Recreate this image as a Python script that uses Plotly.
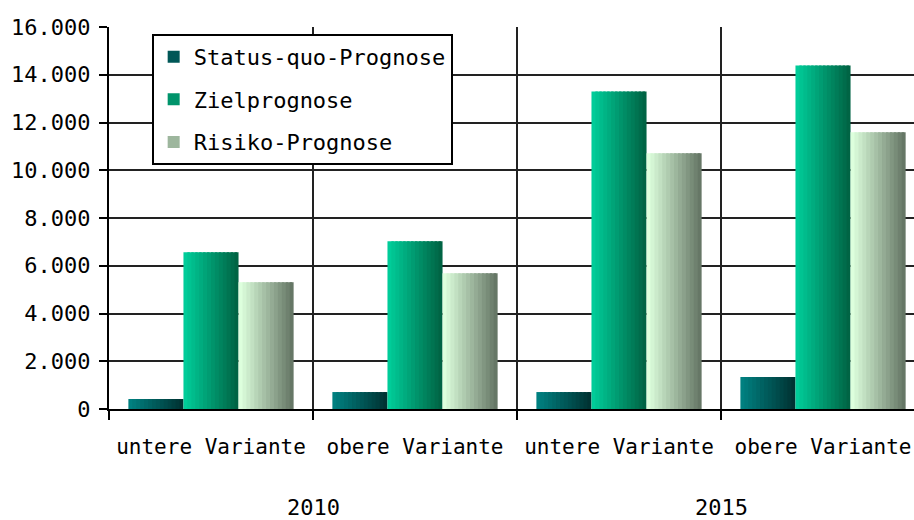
import plotly.graph_objects as go

years = ["2010", "2015"]
variants = ["untere Variante", "obere Variante", "untere Variante", "obere Variante"]
series_names = ["Status-quo-Prognose", "Zielprognose", "Risiko-Prognose"]
status_quo = [420, 710, 710, 1340]
ziel = [6570, 7030, 13300, 14390]
risiko = [5310, 5690, 10710, 11590]
values = [status_quo, ziel, risiko]

# gradient start/end colours per series
grad = [((0, 128, 128), (0, 51, 51)),
        ((0, 204, 153), (0, 100, 68)),
        ((221, 255, 221), (102, 119, 102))]

N = 14
bw = 0.27
start = -0.405
FONT = "DejaVu Sans Mono"

xpos = list(range(len(variants)))
boundaries = [i - 0.5 for i in range(len(variants) + 1)]
per_year = len(variants) // len(years)
year_centers = [i * per_year + (per_year - 1) / 2 for i in range(len(years))]

fig = go.Figure()
for k, (name, vals) in enumerate(zip(series_names, values)):
    c0, c1 = grad[k]
    for j in range(N):
        t = j / (N - 1)
        col = "rgb(%d,%d,%d)" % tuple(round(a + (b - a) * t) for a, b in zip(c0, c1))
        w = bw / N
        fig.add_trace(go.Bar(
            x=xpos, y=vals, name=name, legendgroup=name,
            showlegend=(j == N // 2),
            width=w * (1.6 if j < N - 1 else 1.0),
            offset=start + k * bw + j * w,
            marker=dict(color=col, line=dict(width=0)),
        ))

for yr, xc in zip(years, year_centers):
    fig.add_annotation(x=xc, xref="x", y=-0.259, yref="paper", text=yr,
                       showarrow=False, yanchor="middle", xanchor="center",
                       font=dict(family=FONT, size=22, color="black"))

fig.update_layout(
    width=914, height=520,
    margin=dict(l=109, r=0, t=27, b=111),
    paper_bgcolor="white", plot_bgcolor="white",
    barmode="overlay",
    separators=",.",
    font=dict(family=FONT, size=22, color="black"),
    legend=dict(x=0.053, y=0.982, xanchor="left", yanchor="top",
                bgcolor="white", bordercolor="black", borderwidth=2,
                font=dict(family=FONT, size=22),
                traceorder="grouped", tracegroupgap=11),
    xaxis=dict(range=[-0.5, 3.446], automargin=False,
               tickmode="array", tickvals=xpos, ticktext=variants, tickangle=0,
               ticks="", showgrid=False, ticklabelstandoff=18,
               ticklabeloverflow="allow",
               minor=dict(tickmode="array", tickvals=boundaries, showgrid=True,
                          gridcolor="#222", gridwidth=2,
                          ticks="outside", ticklen=9, tickwidth=2, tickcolor="black"),
               showline=True, linecolor="black", linewidth=2, zeroline=False,
               tickfont=dict(family=FONT, size=21)),
    yaxis=dict(range=[0, 16000], dtick=2000, tickformat=",d", automargin=False,
               showgrid=True, gridcolor="#222", gridwidth=2,
               ticks="outside", ticklen=8, tickwidth=2, tickcolor="black",
               ticklabelstandoff=4,
               showline=True, linecolor="black", linewidth=2, zeroline=False,
               tickfont=dict(family=FONT, size=22)),
)

fig.write_html("out.html",
               config={"displayModeBar": False},
               post_script="document.body.style.margin='0';document.body.style.overflow='hidden';")
